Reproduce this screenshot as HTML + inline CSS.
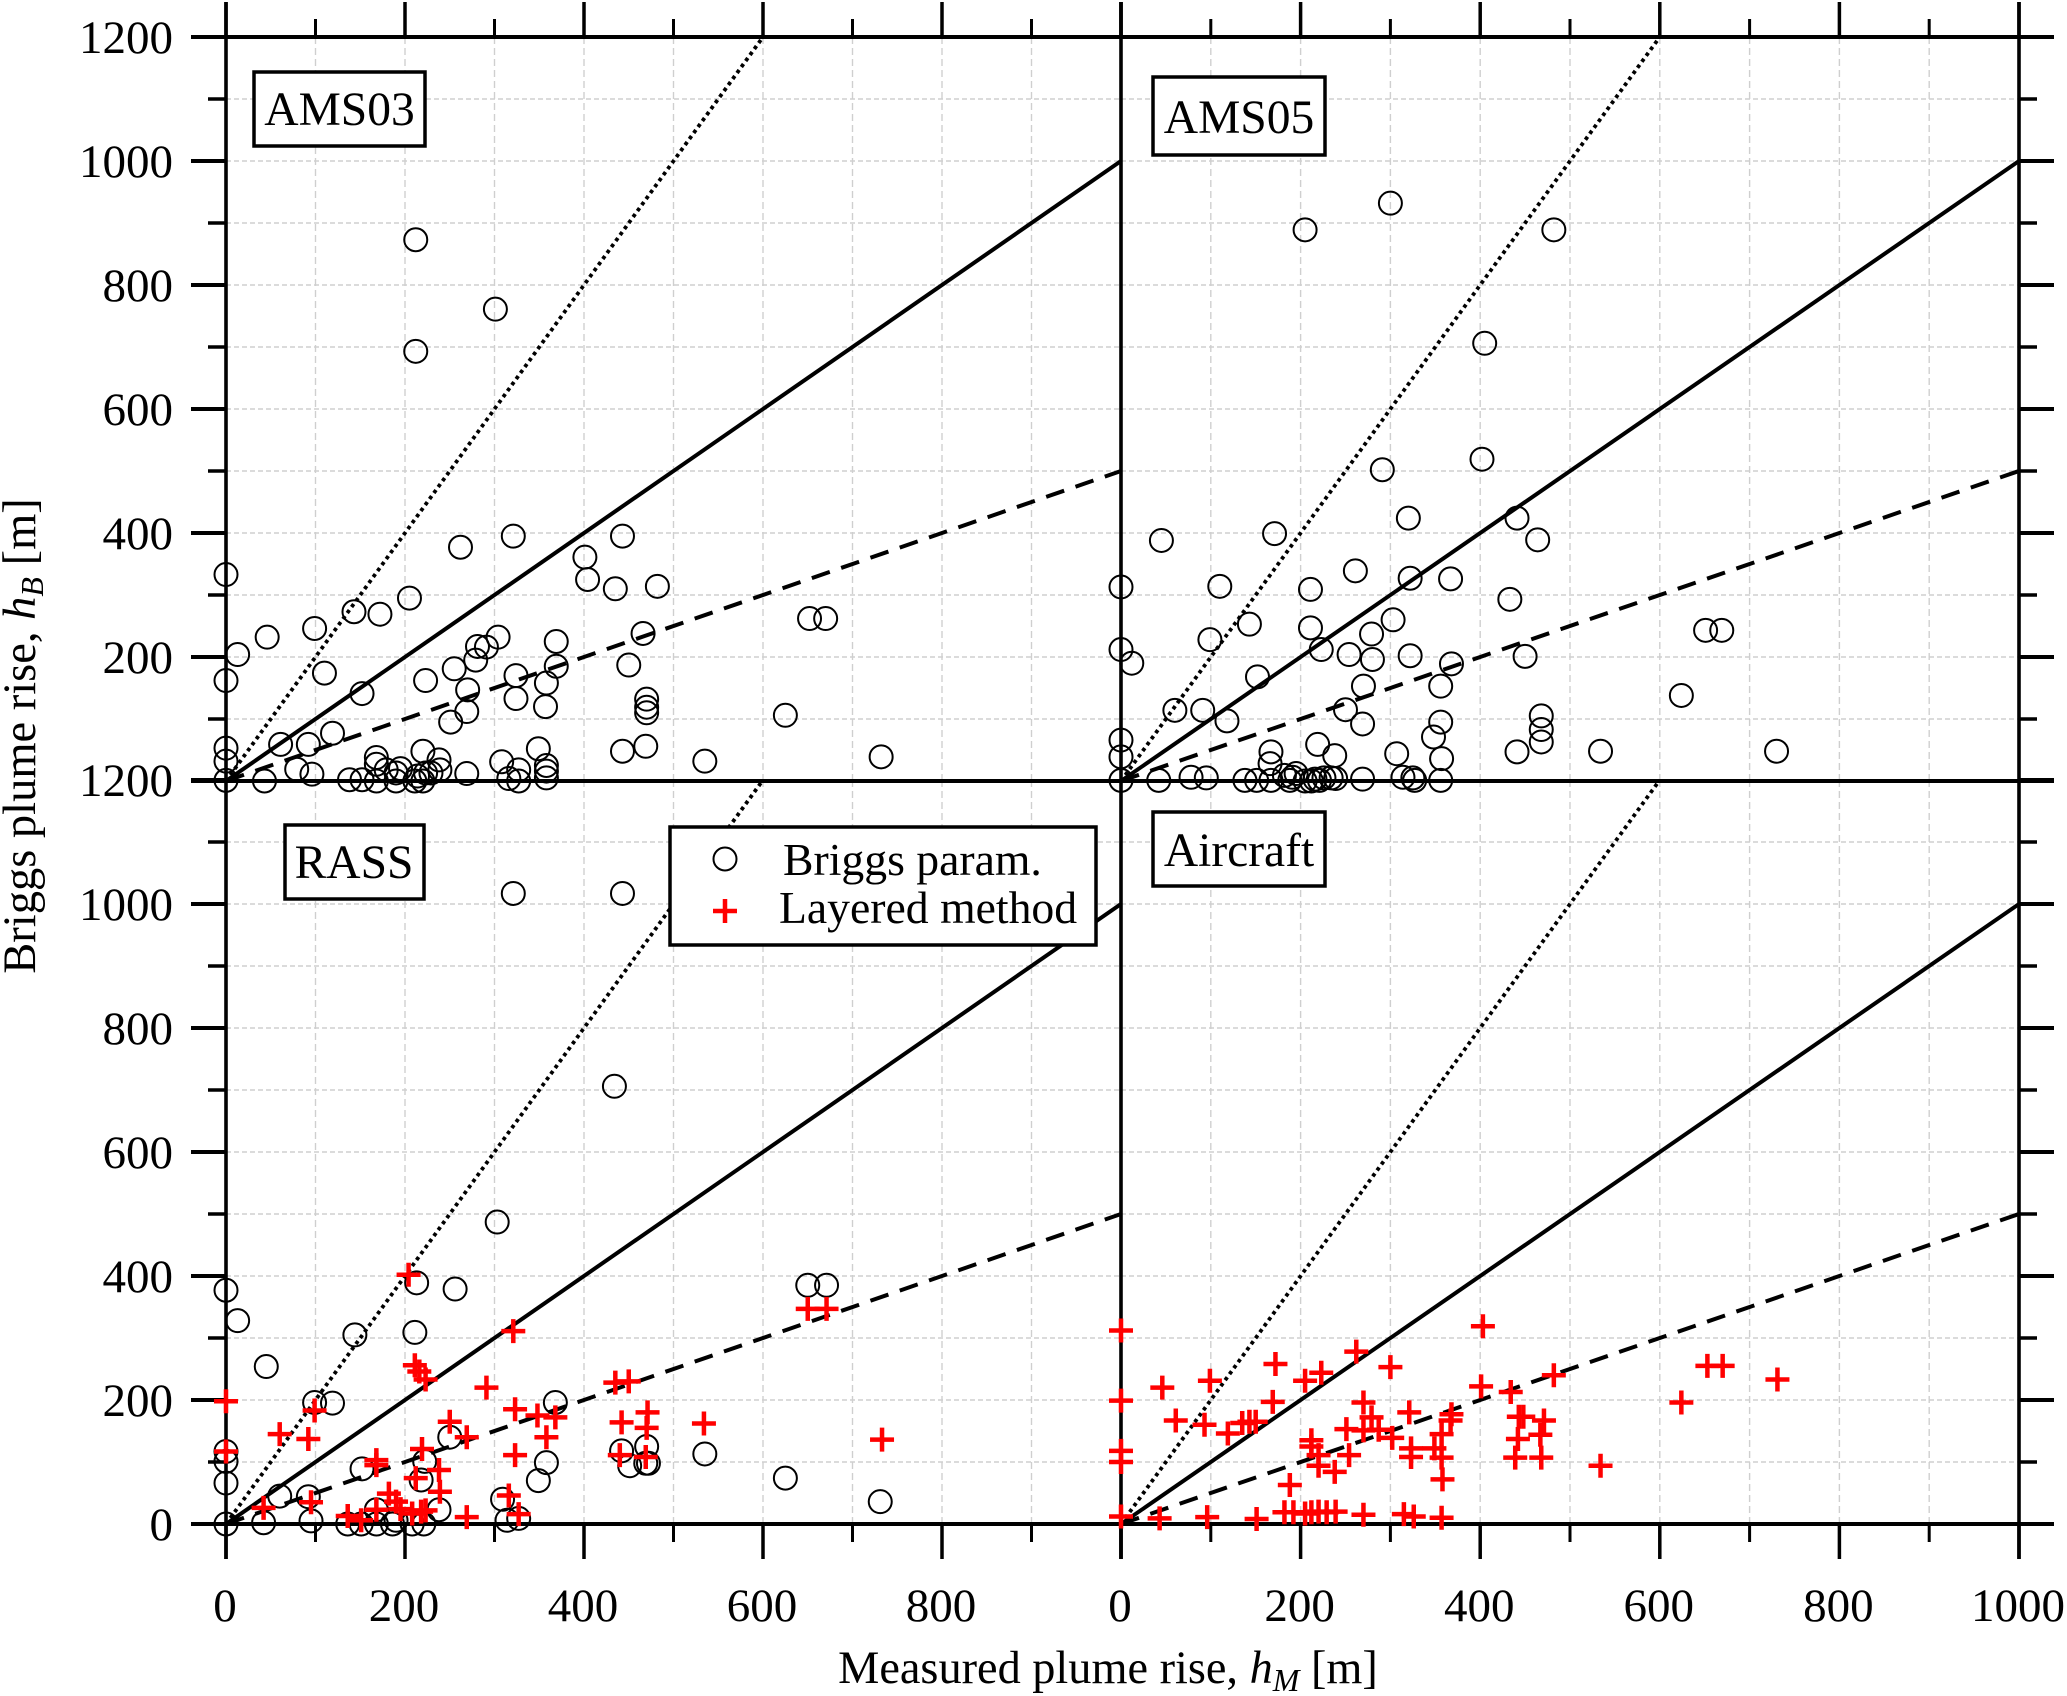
<!DOCTYPE html>
<html>
<head>
<meta charset="utf-8">
<title>Briggs plume rise vs measured plume rise</title>
<style>
html,body{margin:0;padding:0;background:#fff;}
svg{display:block;}
text{font-family:"Liberation Serif",serif;fill:#000;}
</style>
</head>
<body>
<svg id="chart" xmlns="http://www.w3.org/2000/svg" width="2067" height="1696" viewBox="0 0 2067 1696">
  <rect x="0" y="0" width="2067" height="1696" fill="#fff"/>
  <g id="grid"></g>
  <g id="axes"></g>
  <g id="refs"></g>
  <g id="marks"></g>
  <g>
    <rect x="254" y="72" width="171" height="74" fill="#fff" stroke="#000" stroke-width="3.5"/>
    <text x="339.5" y="125" font-size="47.5" text-anchor="middle">AMS03</text>
  </g>
  <g>
    <rect x="1153" y="77" width="172" height="78" fill="#fff" stroke="#000" stroke-width="3.5"/>
    <text x="1239" y="133" font-size="47.5" text-anchor="middle">AMS05</text>
  </g>
  <g>
    <rect x="285" y="825" width="139" height="74" fill="#fff" stroke="#000" stroke-width="3.5"/>
    <text x="354" y="878" font-size="47.5" text-anchor="middle">RASS</text>
  </g>
  <g>
    <rect x="1153" y="812" width="172" height="74" fill="#fff" stroke="#000" stroke-width="3.5"/>
    <text x="1239" y="866" font-size="47.5" text-anchor="middle">Aircraft</text>
  </g>
  <g>
    <rect x="670" y="827" width="426" height="118" fill="#fff" stroke="#000" stroke-width="3.5"/>
    <circle cx="725" cy="859" r="11.5" fill="none" stroke="#000" stroke-width="2"/>
    <text x="783" y="875" font-size="45.7">Briggs param.</text>
    <path d="M713 911H737M725 899V923" fill="none" stroke="#f00" stroke-width="4.5"/>
    <text x="779" y="923" font-size="45.7">Layered method</text>
  </g>
  <text x="1108" y="1683" font-size="46.3" text-anchor="middle">Measured plume rise, <tspan font-style="italic">h</tspan><tspan font-style="italic" font-size="32" dy="8">M</tspan><tspan dy="-8"> [m]</tspan></text>
  <text transform="translate(35,736) rotate(-90)" x="0" y="0" font-size="46.5" text-anchor="middle">Briggs plume rise, <tspan font-style="italic">h</tspan><tspan font-style="italic" font-size="32" dy="8">B</tspan><tspan dy="-8"> [m]</tspan></text>
</svg>
<script>
const xTickValues = [0,100,200,300,400,500,600,700,800,900,1000];
const yTickValues = [0,100,200,300,400,500,600,700,800,900,1000,1100,1200];
const xTickLabelsLeft = [0,200,400,600,800];
const xTickLabelsRight = [0,200,400,600,800,1000];
const yTickLabels = [0,200,400,600,800,1000,1200];

const refSlopes = [1,2,0.5];

const ams03X = [0,0,0,0,0,13,46,43,61,79,96,92,119,99,110,143,172,205,152,138,152,168,168,168,179,190,195,190,211,220,214,223,220,238,239,229,269,251,269,270,223,255,279,281,291,304,262,321,308,327,316,327,349,358,358,358,357,358,369,369,324,324,401,404,443,435,482,450,466,470,470,470,443,469,535,625,652,670,732,212,301,212];
const ams03Y = [1,32,53,162,333,204,232,0,59,19,11,59,77,246,174,273,269,295,141,2,2,0,38,27,18,13,20,0,0,0,8,13,48,34,18,13,12,95,112,147,162,181,195,217,216,232,377,395,31,18,4,0,52,25,16,5,120,158,185,225,133,170,361,325,395,310,314,187,238,132,119,110,48,56,32,106,262,262,39,873,761,693];

const ams05X = [0,0,0,0,0,12,45,42,78,95,60,91,118,99,110,143,171,152,138,151,167,167,166,182,191,195,188,205,212,216,221,226,234,239,211,211,223,261,219,238,254,250,269,270,269,280,279,303,322,322,320,367,307,314,325,327,356,357,348,356,356,368,433,441,464,450,468,468,468,441,534,624,651,669,730,205,300,482,405,402,291];
const ams05Y = [1,39,66,212,313,190,388,1,6,5,114,114,97,228,314,253,399,168,1,1,1,47,28,9,6,12,1,0,0,3,1,5,5,4,309,247,212,339,59,41,204,115,92,153,3,196,237,260,202,327,424,326,44,6,5,1,1,36,71,95,153,189,293,424,389,201,105,83,63,47,48,138,243,243,48,889,932,889,706,519,502];

const rassCircleX = [0,0,0,0,13,42,45,60,95,92,99,119,144,152,136,151,168,168,186,190,208,221,211,218,222,250,238,314,327,309,349,358,368,442,451,470,469,472,535,625,731,0,213,256,303,321,443,434,650,671];
const rassCircleY = [0,66,101,117,328,2,254,45,5,44,196,195,305,89,0,0,0,23,0,6,0,0,309,71,101,140,23,6,9,40,70,99,196,118,94,125,98,98,113,74,36,377,389,379,487,1017,1017,706,385,385];

const rassCrossX = [0,0,42,60,92,95,99,136,151,168,168,168,182,190,195,211,216,223,219,212,208,218,223,238,239,250,269,269,291,321,323,323,316,327,348,368,358,435,450,442,440,471,470,469,534,204,650,671,733];
const rassCrossY = [198,117,26,145,137,35,183,13,6,103,23,95,49,36,24,256,246,233,121,74,17,20,22,87,52,165,140,11,220,311,185,111,46,16,175,172,140,228,230,164,111,180,155,108,162,402,347,347,136];

const aircraftX = [0,0,0,0,0,43,96,151,46,61,93,99,119,135,143,150,169,172,188,182,192,205,223,212,212,220,220,238,205,212,220,229,239,254,251,262,270,270,279,287,300,302,270,321,323,323,315,326,349,357,357,358,357,367,368,401,403,434,443,448,442,439,471,467,468,482,534,624,653,670,731];
const aircraftY = [312,199,118,100,12,9,11,8,220,167,160,231,146,163,165,165,197,258,63,19,19,231,244,135,125,111,94,84,17,19,20,19,20,111,153,278,196,151,172,152,253,139,15,180,122,108,16,12,122,145,107,72,10,167,177,222,319,213,173,173,137,107,167,144,107,240,94,196,255,255,233];

const panels = [
  {name:'ams03', x0:226, xu:0.895, y0:781, circlesX:ams03X, circlesY:ams03Y, crossX:[], crossY:[]},
  {name:'ams05', x0:1121, xu:0.898, y0:781, circlesX:ams05X, circlesY:ams05Y, crossX:[], crossY:[]},
  {name:'rass', x0:226, xu:0.895, y0:1524, circlesX:rassCircleX, circlesY:rassCircleY, crossX:rassCrossX, crossY:rassCrossY},
  {name:'aircraft', x0:1121, xu:0.898, y0:1524, circlesX:[], circlesY:[], crossX:aircraftX, crossY:aircraftY}
];

const NS = 'http://www.w3.org/2000/svg';
const YU = 0.62;
const gridG = document.getElementById('grid');
const axesG = document.getElementById('axes');
const refsG = document.getElementById('refs');
const marksG = document.getElementById('marks');

function xPos(p, v){ return p.x0 + v * p.xu; }
function yPos(p, v){ return p.y0 - v * YU; }

function line(parent, x1, y1, x2, y2, stroke, width, dash){
  const el = document.createElementNS(NS, 'line');
  el.setAttribute('x1', x1);
  el.setAttribute('y1', y1);
  el.setAttribute('x2', x2);
  el.setAttribute('y2', y2);
  el.setAttribute('stroke', stroke);
  el.setAttribute('stroke-width', width);
  if (dash) el.setAttribute('stroke-dasharray', dash);
  parent.appendChild(el);
  return el;
}

function label(str, x, y, anchor){
  const el = document.createElementNS(NS, 'text');
  el.setAttribute('x', x);
  el.setAttribute('y', y);
  el.setAttribute('font-size', '47');
  el.setAttribute('text-anchor', anchor);
  el.textContent = str;
  axesG.appendChild(el);
  return el;
}

panels.forEach(function(p){
  const xTop = p.y0 - 1200 * YU;
  const xLeft = xPos(p, 0);
  const xRight = xPos(p, 1000);

  /* grid */
  xTickValues.forEach(function(v){
    if (v === 0) return;
    const g = line(gridG, xPos(p, v), xTop, xPos(p, v), p.y0, '#cfcfcf', 1.4, '7 4');
    
    
  });
  yTickValues.forEach(function(v){
    if (v === 0) return;
    const g = line(gridG, xLeft, yPos(p, v), xRight, yPos(p, v), '#cfcfcf', 1.4, '5 3');
    
    
  });

  /* x ticks: upward on top row, downward on bottom row */
  const isTop = p.y0 < 1000;
  xTickValues.forEach(function(v){
    const major = v % 200 === 0;
    const len = major ? 35 : 18;
    const yEdge = isTop ? p.y0 - 1200 * YU : p.y0;
    const yEnd = isTop ? yEdge - len : yEdge + len;
    const t = line(axesG, xPos(p, v), yEdge, xPos(p, v), yEnd, '#000', major ? 3.5 : 3);
    
    
  });

  /* y ticks */
  const isLeft = p.x0 < 1000;
  yTickValues.forEach(function(v){
    const major = v % 200 === 0;
    const len = major ? 35 : 18;
    const xEdge = isLeft ? xPos(p, 0) : xPos(p, 1000);
    const xEnd = isLeft ? xEdge - len : xEdge + len;
    const t = line(axesG, xEdge, yPos(p, v), xEnd, yPos(p, v), '#000', major ? 4 : 3.5);
    
    
  });

  /* y tick labels */
  if (isLeft) {
    yTickLabels.forEach(function(v){
      if (isTop && v === 0) return;
      const l = label(String(v), 173, yPos(p, v) + 16, 'end');
      
      
    });
  }

  /* x tick labels */
  if (!isTop) {
    (isLeft ? xTickLabelsLeft : xTickLabelsRight).forEach(function(v){
      const l = label(String(v), xPos(p, v) - 1, 1621, 'middle');
      
      
    });
  }

  /* reference lines */
  refSlopes.forEach(function(s){
    const xMax = Math.min(1000, 1200 / s);
    const dash = s === 2 ? '3.6 3.8' : (s === 0.5 ? '19 12' : null);
    const width = s === 2 ? 3.8 : 4;
    const r = line(refsG, xPos(p, 0), yPos(p, 0), xPos(p, xMax), yPos(p, xMax * s), '#000', width, dash);
    
    
  });
});

/* panel frame lines */
[37, 781, 1524].forEach(function(y){
  const h = line(axesG, 191, y, 2054, y, '#000', 4);
  
  
});
[226, 1121, 2019].forEach(function(x){
  const v = line(axesG, x, 2, x, 1559, '#000', 3.6);
  
  
});

/* data marks */
panels.forEach(function(p){
  p.circlesX.forEach(function(xv, i){
    const c = document.createElementNS(NS, 'circle');
    c.setAttribute('cx', xPos(p, xv));
    c.setAttribute('cy', yPos(p, p.circlesY[i]));
    c.setAttribute('r', 11.5);
    c.setAttribute('fill', 'none');
    c.setAttribute('stroke', '#000');
    c.setAttribute('stroke-width', 2);
    
    
    marksG.appendChild(c);
  });
  p.crossX.forEach(function(xv, i){
    const cx = xPos(p, xv), cy = yPos(p, p.crossY[i]);
    const m = document.createElementNS(NS, 'path');
    m.setAttribute('d', 'M' + (cx - 12) + ' ' + cy + 'H' + (cx + 12) + 'M' + cx + ' ' + (cy - 12) + 'V' + (cy + 12));
    m.setAttribute('fill', 'none');
    m.setAttribute('stroke', '#f00');
    m.setAttribute('stroke-width', 4.5);
    
    
    marksG.appendChild(m);
  });
});
</script>
</body>
</html>
